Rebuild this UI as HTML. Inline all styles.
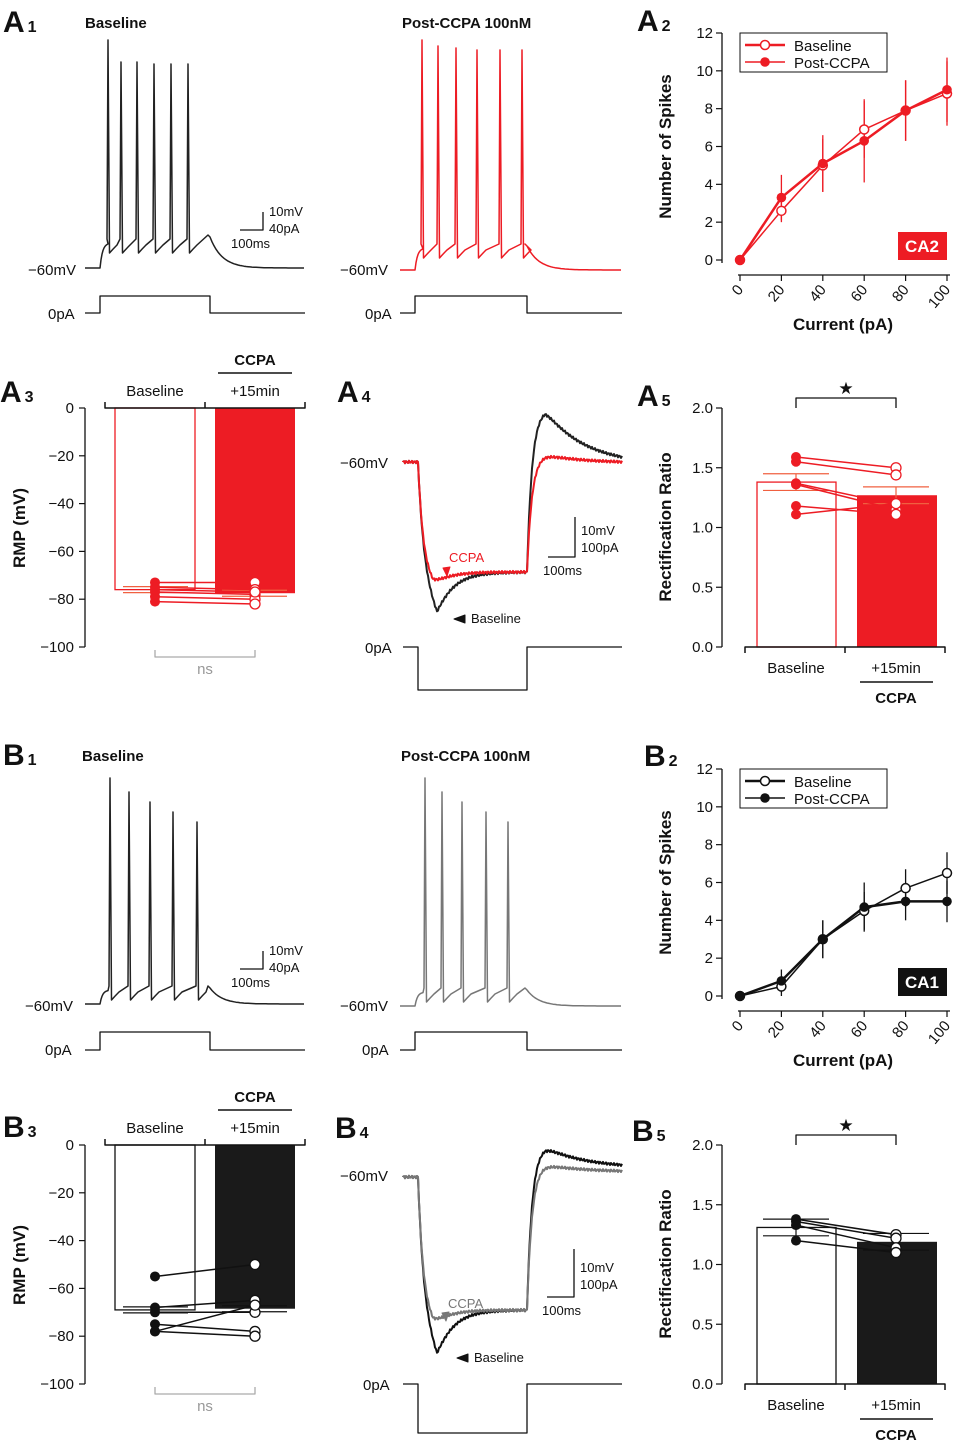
<!DOCTYPE html>
<html><head><meta charset="utf-8"><style>
html,body{margin:0;padding:0;background:#fff;}
svg{display:block;font-family:"Liberation Sans",Arial,sans-serif;}
</style></head><body>
<svg id="fig" width="957" height="1443" viewBox="0 0 957 1443" xmlns="http://www.w3.org/2000/svg"></svg>
<script>
// ---------- DATA ----------
const currents=[0,20,40,60,80,100];
const a2Base=[0,2.6,5.0,6.9,7.9,8.8];
const a2BaseErr=[0,0.6,1.4,1.5,1.6,1.7];
const a2Post=[0,3.3,5.1,6.3,7.9,9.0];
const a2PostErr=[0,1.2,1.5,2.2,1.6,1.7];
const b2Base=[0,0.5,3.0,4.5,5.7,6.5];
const b2BaseErr=[0,0.5,1.0,1.0,1.0,1.1];
const b2Post=[0,0.8,3.0,4.7,5.0,5.0];
const b2PostErr=[0,0.6,1.0,1.3,1.0,1.1];
const spikeTicks=[0,2,4,6,8,10,12];
const rmpTicks=[0,-20,-40,-60,-80,-100];
const rrTicks=[0.0,0.5,1.0,1.5,2.0];
const a3Means=[-76,-77.5];
const a3Base=[-73,-75,-77,-79,-81,-76];
const a3Post=[-73,-76,-78,-80,-82,-77];
const b3Means=[-69,-68.5];
const b3Base=[-55,-68,-70,-75,-78,-78];
const b3Post=[-50,-65,-70,-78,-80,-67];
const a5Means=[1.38,1.27];
const a5Base=[1.59,1.55,1.37,1.36,1.18,1.11];
const a5Post=[1.50,1.44,1.19,1.15,1.11,1.20];
const b5Means=[1.31,1.19];
const b5Base=[1.38,1.36,1.33,1.20];
const b5Post=[1.25,1.22,1.14,1.10];
const a1Spikes=[108,121,137,154,171,188];
const a1Post=[422,438,456,477,500,522];
const b1Spikes=[110,129,150,173,197];
const b1Post=[425,442,462,486,508];

// ---------- HELPERS ----------
const NS='http://www.w3.org/2000/svg';
const svg=document.getElementById('fig');
const RED='#ed1c24';
function mk(tag,attrs,parent){const e=document.createElementNS(NS,tag);for(const k in attrs)e.setAttribute(k,attrs[k]);(parent||svg).appendChild(e);return e;}
function nm(e,n){


return e;}
function txt(x,y,s,opt,name){const t=mk('text',Object.assign({x:x,y:y,'font-size':15,fill:'#111'},opt||{}));t.textContent=s;nm(t,name);return t;}
function ln(x1,y1,x2,y2,c,w,name){return nm(mk('line',{x1,y1,x2,y2,stroke:c||'#111','stroke-width':w||1.5}),name);}
function path(d,c,w,name,fill){return nm(mk('path',{d:d,stroke:c,'stroke-width':w||1.5,fill:fill||'none','stroke-linejoin':'round'}),name);}
function label(x,y,L,n,name){const t=txt(x,y,L,{'font-size':30,'font-weight':'bold'},name);const s=mk('tspan',{'font-size':16,dx:3},t);s.textContent=n;return t;}

// ---------- SPIKE TRACES ----------
function spikeTrace(x0,x1,base,s0,s1,spikes,peaks,sag,endBump){
  let d='M'+x0+','+base+' L'+s0+','+base;
  for(let x=s0;x<=s0+8;x++){d+=' L'+x+','+(base-(base-sag)*(1-Math.exp(-(x-s0)/2.5))).toFixed(1);}
  spikes.forEach((sx,i)=>{
    d+=' L'+(sx-1)+','+(sag-4)+' L'+sx+','+peaks[i]+' L'+(sx+1.5)+','+(sag+10)+' Q'+(sx+5)+','+(sag+6)+' '+(sx+9)+','+(sag+2);
  });
  d+=' L'+(s1-2)+','+(sag-2-endBump);
  for(let x=s1;x<=x1;x+=2){d+=' L'+x+','+(base-(base-sag+endBump)*Math.exp(-(x-s1)/12)).toFixed(1);}
  return d;
}
function stepPath(x0,x1,s0,s1,yb,ys){return 'M'+x0+','+yb+' L'+s0+','+yb+' L'+s0+','+ys+' L'+s1+','+ys+' L'+s1+','+yb+' L'+x1+','+yb;}
function scaleBar(x,y,h,w,l1,l2,l3,prefix,o1,o2){
  path('M'+x+','+(y-h)+' L'+x+','+y+' L'+(x-w)+','+y,'#111',1.3,prefix+'-scale-bar');
  txt(x+6,y-h+o1,l1,{'font-size':13},prefix+'-scale-mv');
  txt(x+6,y-h+o2,l2,{'font-size':13},prefix+'-scale-pa');
  txt(x-32,y+18,l3,{'font-size':13},prefix+'-scale-ms');
}

// A1
label(3,32,'A','1','label-a1');
txt(85,28,'Baseline',{'font-weight':'bold'},'a1-baseline-title');
path(spikeTrace(85,305,268,100,210,a1Spikes,[40,62,62,64,64,64],243,6),'#222',1.5,'a1-baseline-trace');
txt(28,275,'−60mV',{},'a1-rmp-label');
path(stepPath(85,305,100,210,313,296),'#111',1.3,'a1-current-step');
txt(48,319,'0pA',{},'a1-0pa-label');
scaleBar(263,230,18,23,'10mV','40pA','100ms','a1',4,21);
txt(402,28,'Post-CCPA 100nM',{'font-weight':'bold'},'a1-post-title');
path(spikeTrace(400,622,270,415,527,a1Post,[40,46,48,50,50,50],248,2),RED,1.5,'a1-post-trace');
txt(340,275,'−60mV',{},'a1-post-rmp-label');
path(stepPath(400,622,415,527,313,296),'#111',1.3,'a1-post-current-step');
txt(365,319,'0pA',{},'a1-post-0pa-label');

// B1
label(3,765,'B','1','label-b1');
txt(82,761,'Baseline',{'font-weight':'bold'},'b1-baseline-title');
path(spikeTrace(85,305,1004,100,210,b1Spikes,[778,792,802,812,822],990,2),'#222',1.5,'b1-baseline-trace');
txt(25,1011,'−60mV',{},'b1-rmp-label');
path(stepPath(85,305,100,210,1050,1032),'#111',1.3,'b1-current-step');
txt(45,1055,'0pA',{},'b1-0pa-label');
scaleBar(263,969,18,23,'10mV','40pA','100ms','b1',4,21);
txt(401,761,'Post-CCPA 100nM',{'font-weight':'bold'},'b1-post-title');
path(spikeTrace(400,622,1006,415,527,b1Post,[778,792,802,812,822],992,2),'#777',1.5,'b1-post-trace');
txt(340,1011,'−60mV',{},'b1-post-rmp-label');
path(stepPath(400,622,415,527,1050,1032),'#111',1.3,'b1-post-current-step');
txt(362,1055,'0pA',{},'b1-post-0pa-label');

// ---------- SPIKE COUNT PLOTS ----------
function spikePlot(y0,base,baseErr,post,postErr,col,tag,tagBg,prefix){
  const yTop=y0-227;
  const X=v=>740+v*2.07, Y=v=>y0-v*227/12;
  ln(722,yTop,722,y0+3,'#111',1.3,prefix+'-y-axis');
  spikeTicks.forEach(t=>{ln(716,Y(t),722,Y(t),'#111',1.2,prefix+'-y-tick');txt(713,Y(t)+5,String(t),{'text-anchor':'end'},prefix+'-y-tick-label');});
  ln(738,y0+15,950,y0+15,'#111',1.3,prefix+'-x-axis');
  currents.forEach(c=>{ln(X(c),y0+15,X(c),y0+21,'#111',1.2,prefix+'-x-tick');
    txt(X(c)+4,y0+30,String(c),{'text-anchor':'end',transform:'rotate(-50 '+(X(c)+4)+' '+(y0+30)+')'},prefix+'-x-tick-label');});
  txt(671,(y0+yTop)/2,'Number of Spikes',{'font-size':17,'font-weight':'bold','text-anchor':'middle',transform:'rotate(-90 671 '+((y0+yTop)/2)+')'},prefix+'-y-title');
  txt(843,y0+70,'Current (pA)',{'font-size':17,'font-weight':'bold','text-anchor':'middle'},prefix+'-x-title');
  [[base,baseErr,'base'],[post,postErr,'post']].forEach(([vals,err,k])=>{
    vals.forEach((v,i)=>{if(err[i]>0)ln(X(currents[i]),Y(v+err[i]),X(currents[i]),Y(v-err[i]),col,1.3,prefix+'-'+k+'-errorbar');});
    path('M'+vals.map((v,i)=>X(currents[i])+','+Y(v)).join(' L'),col,k==='base'?1.5:2.5,prefix+'-'+k+'-line');
  });
  base.forEach((v,i)=>nm(mk('circle',{cx:X(currents[i]),cy:Y(v),r:4.5,fill:'#fff',stroke:col,'stroke-width':1.5}),prefix+'-base-point'));
  post.forEach((v,i)=>nm(mk('circle',{cx:X(currents[i]),cy:Y(v),r:4.8,fill:col}),prefix+'-post-point'));
  nm(mk('rect',{x:740,y:yTop,width:147,height:39,fill:'#fff',stroke:'#111','stroke-width':1}),prefix+'-legend-box');
  ln(745,yTop+12,785,yTop+12,col,2.5,prefix+'-legend-base-line');
  nm(mk('circle',{cx:765,cy:yTop+12,r:4.5,fill:'#fff',stroke:col,'stroke-width':1.5}),prefix+'-legend-base-marker');
  txt(794,yTop+18,'Baseline',{},prefix+'-legend-base');
  ln(745,yTop+29,785,yTop+29,col,1.5,prefix+'-legend-post-line');
  nm(mk('circle',{cx:765,cy:yTop+29,r:4.8,fill:col}),prefix+'-legend-post-marker');
  txt(794,yTop+35,'Post-CCPA',{},prefix+'-legend-post');
  nm(mk('rect',{x:898,y:y0-28,width:49,height:28,fill:tagBg}),prefix+'-region-tag-bg');
  txt(922,y0-8,tag,{'font-size':17,'font-weight':'bold',fill:'#fff','text-anchor':'middle'},prefix+'-region-tag');
}
label(637,31,'A','2','label-a2');
spikePlot(260,a2Base,a2BaseErr,a2Post,a2PostErr,RED,'CA2',RED,'a2');
label(644,766,'B','2','label-b2');
spikePlot(996,b2Base,b2BaseErr,b2Post,b2PostErr,'#111','CA1','#111','b2');

// ---------- RMP BAR PLOTS ----------
function rmpPlot(y0,means,bv,pv,col,fill,prefix){
  const Y=v=>y0+(-v)/100*239;
  ln(85,y0,85,y0+239,'#111',1.3,prefix+'-y-axis');
  rmpTicks.forEach(t=>{ln(79,Y(t),85,Y(t),'#111',1.2,prefix+'-y-tick');txt(74,Y(t)+5,t===0?'0':'−'+(-t),{'text-anchor':'end'},prefix+'-y-tick-label');});
  txt(25,y0+120,'RMP (mV)',{'font-size':17,'font-weight':'bold','text-anchor':'middle',transform:'rotate(-90 25 '+(y0+120)+')'},prefix+'-y-title');
  nm(mk('rect',{x:115,y:y0,width:80,height:Y(means[0])-y0,fill:'#fff',stroke:col,'stroke-width':1.3}),prefix+'-bar-baseline');
  nm(mk('rect',{x:215,y:y0,width:80,height:Y(means[1])-y0,fill:fill}),prefix+'-bar-ccpa');
  path('M105,'+(y0-6)+' L105,'+y0+' L305,'+y0+' L305,'+(y0-6)+' M205,'+y0+' L205,'+(y0-6),'#111',1.5,prefix+'-top-axis');
  txt(155,y0-12,'Baseline',{'text-anchor':'middle'},prefix+'-cat-baseline');
  txt(255,y0-12,'+15min',{'text-anchor':'middle'},prefix+'-cat-15min');
  ln(218,y0-35,292,y0-35,'#111',1.5,prefix+'-ccpa-line');
  txt(255,y0-43,'CCPA',{'font-weight':'bold','text-anchor':'middle'},prefix+'-ccpa-label');
  const sc=col===RED?'#f06040':'#111';
  ln(123,Y(means[0])-3,188,Y(means[0])-3,sc,1.2,prefix+'-se-baseline');
  ln(123,Y(means[0])+3,188,Y(means[0])+3,sc,1.2,prefix+'-se-baseline');
  ln(222,Y(means[1])-3,287,Y(means[1])-3,sc,1.2,prefix+'-se-ccpa');
  ln(222,Y(means[1])+3,287,Y(means[1])+3,sc,1.2,prefix+'-se-ccpa');
  bv.forEach((v,i)=>ln(155,Y(v),255,Y(pv[i]),col,1.5,prefix+'-pair-line'));
  bv.forEach(v=>nm(mk('circle',{cx:155,cy:Y(v),r:5,fill:col}),prefix+'-baseline-point'));
  pv.forEach(v=>nm(mk('circle',{cx:255,cy:Y(v),r:5,fill:'#fff',stroke:col,'stroke-width':1.3}),prefix+'-ccpa-point'));
  path('M155,'+(y0+242)+' L155,'+(y0+249)+' L255,'+(y0+249)+' L255,'+(y0+242),'#aaa',1.3,prefix+'-ns-bracket');
  txt(205,y0+266,'ns',{'text-anchor':'middle',fill:'#999'},prefix+'-ns-label');
}
label(0,402,'A','3','label-a3');
rmpPlot(408,a3Means,a3Base,a3Post,RED,RED,'a3');
label(3,1137,'B','3','label-b3');
rmpPlot(1145,b3Means,b3Base,b3Post,'#111','#1a1a1a','b3');

// ---------- HYPERPOLARIZATION TRACES ----------
function hyperTrace(base,trough,tx,plateau,peak,endV){
  let d='M403,'+base;
  for(let x=403;x<=622;x++){
    let y;
    if(x<418)y=base;
    else if(x<=527){const t=x-418;
      const drop=1-Math.exp(-t/5);const sagf=Math.exp(-Math.max(0,t-(tx-418))/16);y=base+(plateau-base)*drop+(trough-plateau)*drop*sagf*(t<tx-418?t/(tx-418):1);}
    else{const t=x-527;const rise=1-Math.exp(-t/5);y=plateau+(peak-plateau)*rise;y=y+(endV-peak)*(1-Math.exp(-Math.max(0,t-18)/40))*rise;}
    d+=' L'+x+','+(y+Math.sin(x*2.3)*1.2).toFixed(1);
  }
  return d;
}
label(337,402,'A','4','label-a4');
path(hyperTrace(462,615,437,572,410,465),'#222',2,'a4-baseline-trace');
path(hyperTrace(462,585,433,572,455,463),RED,2,'a4-ccpa-trace');
txt(340,468,'−60mV',{},'a4-rmp-label');
path(stepPath(403,622,418,527,647,690),'#111',1.3,'a4-current-step');
txt(365,653,'0pA',{},'a4-0pa-label');
scaleBar(575,557,40,27,'10mV','100pA','100ms','a4',18,35);
txt(449,562,'CCPA',{'font-size':13,fill:RED},'a4-ccpa-annotation');
path('M443,568 L447,576 L450,567 Z',RED,1,'a4-ccpa-arrow',RED);
txt(471,623,'Baseline',{'font-size':13},'a4-baseline-annotation');
path('M454,619 L465,615 L465,623 Z','#111',1,'a4-baseline-arrow','#111');

label(335,1138,'B','4','label-b4');
path(hyperTrace(1177,1357,437,1310,1147,1168),'#111',2,'b4-baseline-trace');
path(hyperTrace(1177,1325,433,1310,1165,1172),'#777',2,'b4-ccpa-trace');
txt(340,1181,'−60mV',{},'b4-rmp-label');
path(stepPath(403,622,418,527,1384,1433),'#111',1.3,'b4-current-step');
txt(363,1390,'0pA',{},'b4-0pa-label');
scaleBar(574,1297,48,27,'10mV','100pA','100ms','b4',23,40);
txt(448,1308,'CCPA',{'font-size':13,fill:'#777'},'b4-ccpa-annotation');
path('M442,1313 L446,1321 L449,1312 Z','#777',1,'b4-ccpa-arrow','#777');
txt(474,1362,'Baseline',{'font-size':13},'b4-baseline-annotation');
path('M457,1358 L468,1354 L468,1362 Z','#111',1,'b4-baseline-arrow','#111');

// ---------- RECTIFICATION RATIO PLOTS ----------
function rrPlot(y0,means,bv,pv,col,fill,prefix){
  const Y=v=>y0-v/2*239;
  ln(722,y0-239,722,y0,'#111',1.3,prefix+'-y-axis');
  rrTicks.forEach(t=>{ln(716,Y(t),722,Y(t),'#111',1.2,prefix+'-y-tick');txt(713,Y(t)+5,t.toFixed(1),{'text-anchor':'end'},prefix+'-y-tick-label');});
  txt(671,y0-120,'Rectification Ratio',{'font-size':17,'font-weight':'bold','text-anchor':'middle',transform:'rotate(-90 671 '+(y0-120)+')'},prefix+'-y-title');
  nm(mk('rect',{x:757,y:Y(means[0]),width:79,height:y0-Y(means[0]),fill:'#fff',stroke:col,'stroke-width':1.3}),prefix+'-bar-baseline');
  nm(mk('rect',{x:857,y:Y(means[1]),width:80,height:y0-Y(means[1]),fill:fill}),prefix+'-bar-ccpa');
  path('M745,'+(y0+6)+' L745,'+y0+' L945,'+y0+' L945,'+(y0+6)+' M845,'+y0+' L845,'+(y0+6),'#111',1.5,prefix+'-x-axis');
  txt(796,y0+26,'Baseline',{'text-anchor':'middle'},prefix+'-cat-baseline');
  txt(896,y0+26,'+15min',{'text-anchor':'middle'},prefix+'-cat-15min');
  ln(860,y0+35,933,y0+35,'#111',1.5,prefix+'-ccpa-line');
  txt(896,y0+56,'CCPA',{'font-weight':'bold','text-anchor':'middle'},prefix+'-ccpa-label');
  const sc=col===RED?'#f06040':'#111';
  [[0,796],[1,896]].forEach(([i,x])=>{const se=0.07;
    ln(x,Y(means[i]+se),x,Y(means[i]-se),sc,1.2,prefix+'-se-bar');
    ln(x-33,Y(means[i]+se),x+33,Y(means[i]+se),sc,1.2,prefix+'-se-bar');
    ln(x-33,Y(means[i]-se),x+33,Y(means[i]-se),sc,1.2,prefix+'-se-bar');});
  bv.forEach((v,i)=>ln(796,Y(v),896,Y(pv[i]),col,1.5,prefix+'-pair-line'));
  bv.forEach(v=>nm(mk('circle',{cx:796,cy:Y(v),r:5,fill:col}),prefix+'-baseline-point'));
  pv.forEach(v=>nm(mk('circle',{cx:896,cy:Y(v),r:5,fill:'#fff',stroke:col,'stroke-width':1.3}),prefix+'-ccpa-point'));
  path('M796,'+(y0-239)+' L796,'+(y0-249)+' L896,'+(y0-249)+' L896,'+(y0-239),'#111',1.3,prefix+'-sig-bracket');
  txt(846,y0-253,'★',{'font-size':17,'text-anchor':'middle'},prefix+'-sig-star');
}
label(637,406,'A','5','label-a5');
rrPlot(647,a5Means,a5Base,a5Post,RED,RED,'a5');
label(632,1141,'B','5','label-b5');
rrPlot(1384,b5Means,b5Base,b5Post,'#111','#1a1a1a','b5');
</script>
</body></html>
